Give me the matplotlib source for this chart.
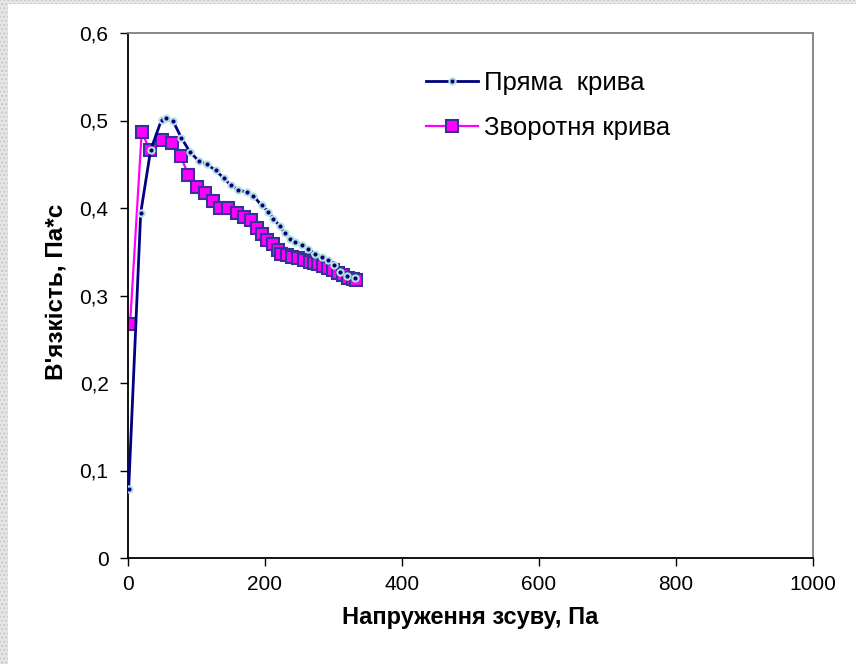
import matplotlib
matplotlib.use("Agg")
import matplotlib.pyplot as plt
from matplotlib.patches import Rectangle

plt.rcParams['font.family'] = ['Liberation Sans', 'DejaVu Sans']

# Forward curve ("Пряма крива")
x_fwd = [1, 18.5, 33, 49, 56, 66, 78, 90.5, 103, 115, 128, 140, 150, 161, 173, 183,
         195, 205, 212, 222, 229, 236.5, 244, 253.5, 263, 273, 283, 292, 300, 309.5,
         319, 331]
y_fwd = [0.079, 0.394, 0.466, 0.501, 0.5025, 0.499, 0.48, 0.464, 0.454, 0.450, 0.443,
         0.434, 0.426, 0.421, 0.418, 0.414, 0.403, 0.396, 0.388, 0.379, 0.371, 0.365,
         0.3615, 0.358, 0.353, 0.348, 0.344, 0.341, 0.335, 0.327, 0.322, 0.320]

# Reverse curve ("Зворотня крива")
x_rev = [3, 20, 32, 49, 64, 77, 88, 101, 113, 124.5, 135, 146, 159, 169, 179, 188, 196,
         203, 211, 218.5, 224, 232, 240, 248.5, 257, 265, 271.5, 278, 285, 292, 299,
         307, 314, 321.5, 328, 333]
y_rev = [0.267, 0.487, 0.466, 0.478, 0.474, 0.459, 0.438, 0.424, 0.4175, 0.408, 0.3996,
         0.3996, 0.394, 0.390, 0.386, 0.377, 0.370, 0.364, 0.359, 0.352, 0.347, 0.3463,
         0.3444, 0.3425, 0.3406, 0.3387, 0.3375, 0.336, 0.334, 0.332, 0.329, 0.326,
         0.323, 0.320, 0.3186, 0.318]

x_ticks = [0, 200, 400, 600, 800, 1000]
y_ticks = [0, 0.1, 0.2, 0.3, 0.4, 0.5, 0.6]
y_tick_labels = ['0', '0,1', '0,2', '0,3', '0,4', '0,5', '0,6']

fig = plt.figure(figsize=(8.56, 6.64), dpi=100)
ax = fig.add_axes([128/856, 1-558/664, (813-128)/856, (558-33)/664])

ax.plot(x_fwd, y_fwd, color='#000080', lw=2, marker='o', ms=4.5,
        mfc='#000080', mec='#b8e0e0', mew=1.5, label='Пряма  крива', zorder=3)
ax.plot(x_rev, y_rev, color='#ff00ff', lw=1.6, marker='s', ms=8,
        mfc='#ff00ff', mec='#333399', mew=1.5, label='Зворотня крива', zorder=2)

ax.set_xlim(0, 1000)
ax.set_ylim(0, 0.6)
ax.set_xticks(x_ticks)
ax.set_yticks(y_ticks)
ax.set_yticklabels(y_tick_labels)
ax.tick_params(direction='out', length=6, width=1, labelsize=15, pad=6)
ax.tick_params(axis='y', pad=8)

for s in ['left', 'bottom']:
    ax.spines[s].set_color('black')
    ax.spines[s].set_linewidth(1.3)
for s in ['top', 'right']:
    ax.spines[s].set_color('#808080')
    ax.spines[s].set_linewidth(1.3)

ax.set_xlabel('Напруження зсуву, Па', fontsize=17, fontweight='bold')
ax.set_ylabel("В'язкість, Па*с", fontsize=17.5, fontweight='bold')
ax.xaxis.set_label_coords(0.499, -0.092)
ax.yaxis.set_label_coords(-0.088, 0.507)

leg = ax.legend(loc='upper left', bbox_to_anchor=(0.401, 0.971), frameon=False,
                fontsize=18.5, handlelength=2.05, labelspacing=0.82, handletextpad=0.2)

# checkered border strips
fig.patches.append(Rectangle((0, 0), 8/856, 1, transform=fig.transFigure,
                             facecolor='#e6e6e6', edgecolor='#c8c8c8', hatch='....',
                             lw=0, zorder=0))
fig.patches.append(Rectangle((0, 1-4/664), 1, 4/664, transform=fig.transFigure,
                             facecolor='#e6e6e6', edgecolor='#c8c8c8', hatch='....',
                             lw=0, zorder=0))

fig.savefig('out.png', dpi=100)
